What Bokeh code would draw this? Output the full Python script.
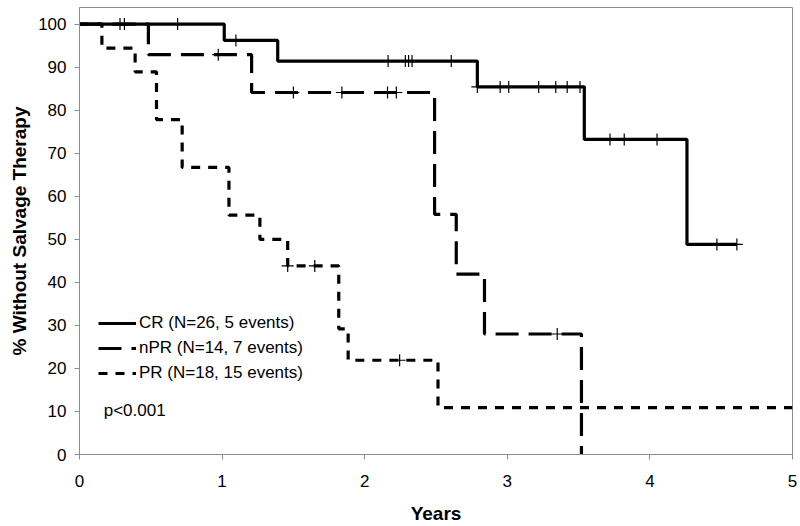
from bokeh.plotting import figure
from bokeh.models import Range1d, Legend, LegendItem, Label, FixedTicker, Title
from bokeh.embed import file_html
from bokeh.resources import INLINE

# ---- data ----
cr_times = [0, 1.015, 1.39, 2.79, 3.54, 4.26, 4.61]
cr_surv = [100, 96.2, 91.4, 85.4, 73.2, 48.8, 48.8]
cr_cens_t = [0.284, 0.315, 0.688, 1.097, 2.164, 2.285, 2.308, 2.332, 2.607, 2.79,
             2.95, 3.01, 3.22, 3.34, 3.42, 3.51, 3.72, 3.82, 4.05, 4.47, 4.61]

npr_times = [0, 0.483, 1.207, 2.49, 2.642, 2.84, 3.52]
npr_surv = [100, 92.9, 84.1, 55.8, 41.9, 28.0, 0]
npr_cens_t = [0.973, 1.50, 1.84, 2.16, 2.222, 3.35]

pr_times = [0, 0.157, 0.39, 0.54, 0.72, 1.048, 1.265, 1.46, 1.818, 1.884, 2.514, 5.0]
pr_surv = [100, 94.4, 88.9, 77.8, 66.7, 55.6, 50.0, 43.8, 29.2, 21.9, 10.9, 10.9]
pr_cens_t = [1.46, 1.65, 2.245]

x_ticks = [0, 1, 2, 3, 4, 5]
y_ticks = [0, 10, 20, 30, 40, 50, 60, 70, 80, 90, 100]

labels = ["CR (N=26, 5 events)", "nPR (N=14, 7 events)", "PR (N=18, 15 events)"]
p_text = "p<0.001"
y_title = "% Without Salvage Therapy"
x_title = "Years"


def surv_at(times, surv, t):
    val = surv[0]
    for ti, si in zip(times, surv):
        if ti <= t:
            val = si
    return val


FONT = "Liberation Sans"
GRAY = "#8c8c8c"

p = figure(width=800, height=526, output_backend="svg", toolbar_location=None,
           x_range=Range1d(0, 5), y_range=Range1d(0, 103.85),
           min_border_left=78, min_border_right=8, min_border_top=7, min_border_bottom=72)
p.background_fill_color = "white"
p.border_fill_color = "white"
p.outline_line_color = GRAY
p.outline_line_width = 1
p.xgrid.visible = False
p.ygrid.visible = False

cr_r = p.step(cr_times, cr_surv, mode="after", line_color="black", line_width=3.2)
npr_r = p.step(npr_times, npr_surv, mode="after", line_color="black", line_width=3.2,
               line_dash="23 10")
pr_r = p.step(pr_times, pr_surv, mode="after", line_color="black", line_width=3.2,
              line_dash="9 8")

for cens, times, surv in [(cr_cens_t, cr_times, cr_surv),
                          (npr_cens_t, npr_times, npr_surv),
                          (pr_cens_t, pr_times, pr_surv)]:
    ys = [surv_at(times, surv, t) for t in cens]
    p.scatter(cens, ys, marker="cross", size=12, line_color="black", line_width=1.2)

for ax in (p.xaxis[0], p.yaxis[0]):
    ax.axis_line_color = GRAY
    ax.major_tick_line_color = GRAY
    ax.minor_tick_line_color = None
    ax.major_tick_in = 0
    ax.major_tick_out = 5
    ax.major_label_text_font = FONT
    ax.major_label_text_font_size = "17px"
    ax.major_label_text_color = "black"
    ax.axis_label_text_font = FONT
    ax.axis_label_text_font_size = "19px"
    ax.axis_label_text_font_style = "bold"
    ax.axis_label_text_color = "black"

p.xaxis.ticker = FixedTicker(ticks=x_ticks)
p.yaxis.ticker = FixedTicker(ticks=y_ticks)
p.xaxis.axis_label = x_title
p.xaxis.major_label_standoff = 15
p.xaxis.axis_label_standoff = 13
p.yaxis.major_label_standoff = 8

# y-axis title, placed on the left side and shifted up like the reference
p.add_layout(Title(text=y_title, align="center", offset=22, standoff=12,
                   text_font=FONT, text_font_size="19px", text_font_style="bold",
                   text_color="black"), "left")

legend = Legend(items=[LegendItem(label=labels[0], renderers=[cr_r]),
                       LegendItem(label=labels[1], renderers=[npr_r]),
                       LegendItem(label=labels[2], renderers=[pr_r])],
                location=(19, 71), orientation="vertical")
legend.background_fill_alpha = 0
legend.border_line_color = None
legend.margin = 0
legend.padding = 0
legend.glyph_width = 38
legend.glyph_height = 20
legend.label_height = 20
legend.label_standoff = 3
legend.spacing = 5
legend.label_text_font = FONT
legend.label_text_font_size = "17px"
legend.label_text_color = "black"
legend.label_text_baseline = "middle"
p.add_layout(legend, "center")

p.add_layout(Label(x=0.17, y=10.2, text=p_text, text_font=FONT, text_font_size="17px",
                   text_baseline="middle", text_color="black"))

open("out.html", "w").write(file_html(p, INLINE))
